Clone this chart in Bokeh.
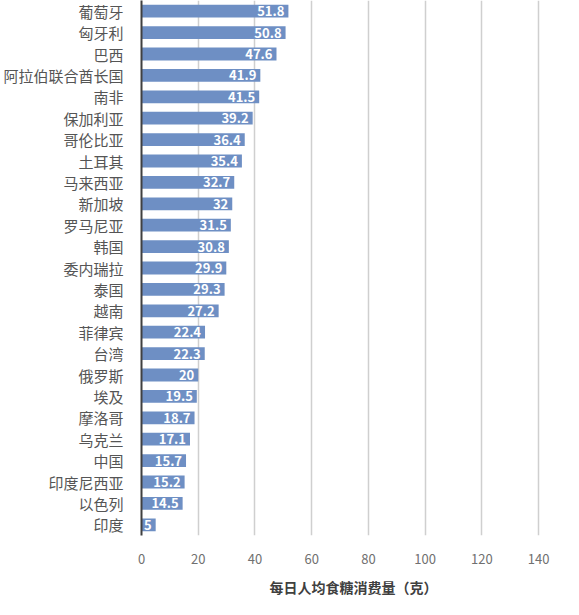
from bokeh.plotting import figure
from bokeh.models import ColumnDataSource, FixedTicker
from bokeh.core.properties import value
from bokeh.embed import file_html
from bokeh.resources import INLINE

# datos
paises = ["葡萄牙", "匈牙利", "巴西", "阿拉伯联合酋长国", "南非", "保加利亚",
          "哥伦比亚", "土耳其", "马来西亚", "新加坡", "罗马尼亚", "韩国",
          "委内瑞拉", "泰国", "越南", "菲律宾", "台湾", "俄罗斯", "埃及",
          "摩洛哥", "乌克兰", "中国", "印度尼西亚", "以色列", "印度"]
azucar = [51.8, 50.8, 47.6, 41.9, 41.5, 39.2, 36.4, 35.4, 32.7, 32, 31.5, 30.8,
          29.9, 29.3, 27.2, 22.4, 22.3, 20, 19.5, 18.7, 17.1, 15.7, 15.2, 14.5, 5]
etiquetas = ["51.8", "50.8", "47.6", "41.9", "41.5", "39.2", "36.4", "35.4", "32.7",
             "32", "31.5", "30.8", "29.9", "29.3", "27.2", "22.4", "22.3", "20",
             "19.5", "18.7", "17.1", "15.7", "15.2", "14.5", "5"]
ticks_x = [0, 20, 40, 60, 80, 100, 120, 140]

fuente = "Noto Sans CJK SC"

src = ColumnDataSource(dict(pais=paises, valor=azucar, txt=etiquetas))

p = figure(width=571, height=599, y_range=list(reversed(paises)), x_range=(0, 149.5),
           output_backend="svg", toolbar_location=None,
           min_border_left=133, min_border_right=6, min_border_top=0,
           min_border_bottom=58)

p.hbar(y="pais", right="valor", height=0.6, source=src,
       fill_color="#6E8FC4", line_color=None)

p.text(x="valor", y="pais", text="txt", source=src, x_offset=-4,
       text_align="right", text_baseline="middle", text_color="white",
       text_font=value(fuente), text_font_size="13px", text_font_style="bold")

p.outline_line_color = None
p.ygrid.grid_line_color = None
p.xgrid.grid_line_color = "#cfcfcf"
p.xgrid.grid_line_width = 1.5
p.xaxis.ticker = FixedTicker(ticks=ticks_x)

p.xaxis.axis_line_color = None
p.xaxis.major_tick_line_color = None
p.xaxis.minor_tick_line_color = None
p.xaxis.major_label_text_font = fuente
p.xaxis.major_label_text_font_size = "13px"
p.xaxis.major_label_text_color = "#707070"
p.xaxis.major_label_standoff = 12
p.xaxis.axis_label = "每日人均食糖消费量（克）"
p.xaxis.axis_label_text_font = fuente
p.xaxis.axis_label_text_font_size = "14px"
p.xaxis.axis_label_text_font_style = "bold"
p.xaxis.axis_label_text_color = "#404040"
p.xaxis.axis_label_standoff = 10

p.yaxis.axis_line_color = "#404040"
p.yaxis.axis_line_width = 2
p.yaxis.major_tick_line_color = None
p.yaxis.minor_tick_line_color = None
p.yaxis.major_label_text_font = fuente
p.yaxis.major_label_text_font_size = "15px"
p.yaxis.major_label_text_color = "#555555"
p.yaxis.major_label_standoff = 12

open("out.html", "w").write(file_html(p, INLINE))
